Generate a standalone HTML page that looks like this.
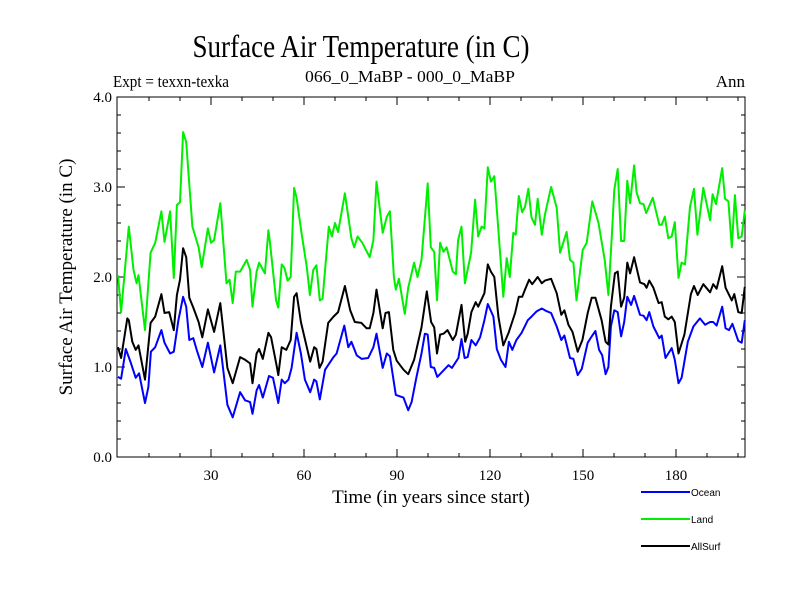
<!DOCTYPE html>
<html><head><meta charset="utf-8"><style>
html,body{margin:0;padding:0;background:#fff;}
svg{display:block;font-family:"Liberation Serif",serif;}
</style></head><body>
<svg id="chart" width="800" height="600" viewBox="0 0 800 600">
<text x="361" y="57" font-size="32" text-anchor="middle" textLength="337" lengthAdjust="spacingAndGlyphs">Surface Air Temperature (in C)</text>
<text x="113" y="87" font-size="17" textLength="116" lengthAdjust="spacingAndGlyphs">Expt = texxn-texka</text>
<text x="410" y="82" font-size="17" text-anchor="middle" textLength="210" lengthAdjust="spacingAndGlyphs">066_0_MaBP - 000_0_MaBP</text>
<text x="745" y="87" font-size="17" text-anchor="end">Ann</text>
<text transform="translate(72,277) rotate(-90)" font-size="19" text-anchor="middle">Surface Air Temperature (in C)</text>
<text x="431" y="503" font-size="19" text-anchor="middle">Time (in years since start)</text>
<g id="axes"></g>
<g id="series"></g>
<g id="legend" font-family="Liberation Sans, sans-serif" font-size="10">
<line x1="641" y1="492" x2="690" y2="492" stroke="#0000ff" stroke-width="2"/>
<text x="691" y="496">Ocean</text>
<line x1="641" y1="519" x2="690" y2="519" stroke="#00ee00" stroke-width="2"/>
<text x="691" y="523">Land</text>
<line x1="641" y1="546" x2="690" y2="546" stroke="#000" stroke-width="2"/>
<text x="691" y="550">AllSurf</text>
</g>
</svg>
<script>
const landYears=[0,1,3.5,5,6,6.6,8.7,10.5,12,14,15,16.8,18,19,20,21,22,24,26,27,29,30,31,33,35,36,37,38,39.4,41.5,42.6,43.4,44.7,45.5,47.4,48.5,49,51,51.7,52.8,53.7,54.7,55.7,56.8,57.6,59.2,60.9,61.9,63,64,65.1,66,68,69,70,71,73.2,75.3,76.2,77.3,78.8,81.2,82.4,83.4,85.4,86.7,87.7,89,89.6,90.6,92.5,93.6,95.5,96.6,97.9,99.9,100.9,102,102.9,103.9,105,106,108,109,109.7,110.8,111.9,113.9,115.2,116.2,117.3,118.2,119.3,120.3,121.4,122.7,124.3,125.4,126.4,127.5,128.3,129.3,130.4,131.3,132.4,133.4,134.5,135.4,136.7,137.7,139.7,141.5,142.6,143.7,144.7,145.8,146.9,147.9,149.9,151.2,153,155,157,158.2,159.3,160.1,161.2,162.3,163.3,164.3,165.2,166.5,167.3,168.4,169.5,170.4,172.5,174.6,175.4,176.4,177.5,178.6,179.6,180.8,181.8,182.9,184.5,185.8,186.9,188.8,191,191.8,192.9,194.9,195.8,196.9,198,199,200.1,201.2,202.2];
const landValues=[2.02,1.61,2.56,2.08,1.93,2.02,1.41,2.27,2.38,2.73,2.39,2.73,1.99,2.8,2.83,3.61,3.5,2.56,2.33,2.11,2.54,2.38,2.41,2.82,1.93,1.97,1.71,2.06,2.06,2.19,2.08,1.67,2.06,2.16,2.04,2.52,2.39,1.74,1.66,2.14,2.1,1.96,2.0,2.99,2.88,2.49,2.11,1.8,2.08,2.13,1.74,1.76,2.56,2.45,2.6,2.5,2.93,2.43,2.33,2.45,2.38,2.22,2.41,3.06,2.49,2.67,2.73,2.0,1.86,1.98,1.59,1.88,2.16,2.0,2.19,3.04,2.33,2.28,1.74,2.38,2.28,2.33,2.06,2.03,2.41,2.56,1.93,2.27,2.86,2.45,2.56,2.54,3.22,3.06,3.12,2.52,1.78,2.21,2.0,2.49,2.47,2.9,2.72,2.78,2.98,2.66,2.58,2.87,2.47,2.69,3.0,2.77,2.27,2.39,2.5,2.19,2.16,1.74,2.3,2.38,2.84,2.6,2.19,1.8,2.45,2.97,3.2,2.4,2.4,3.07,2.82,3.24,2.94,2.82,2.81,2.71,2.88,2.58,2.58,2.67,2.43,2.45,2.61,1.99,2.16,2.14,2.78,2.98,2.47,2.99,2.63,2.92,2.81,3.21,2.87,2.84,2.33,2.91,2.43,2.45,2.74];
const allYears=[0,1,3,3.5,4.6,5.7,6.6,8.7,10.5,12,14,15,16.5,18,19,20,21,22,23,24.3,26,27.2,29,31,33,35.3,37,39.4,41,42.6,43.4,44.7,45.5,46.7,48.5,49.4,51.2,51.7,52.8,54.3,55.7,56.8,57.6,59,60.9,62,63.3,64,65,66,67.8,69.5,71,73.2,74.9,76.4,78.5,80.2,81.2,82.4,83.4,85.4,86.3,87.4,88.8,89.9,92.1,93.6,95.5,97.9,99.6,101,102,102.9,103.9,105,106.3,108,109,110.8,112,112.8,114,115.4,116.2,118.2,119.3,120.3,121.4,122.7,124.3,126,128.1,129.3,130.4,131.3,132.6,133.6,135.4,136.7,137.7,139.7,141.5,143,144,145.3,146.6,148.3,149.8,151.5,152.8,154,156,157.3,158.2,159,160.3,161.2,162.3,163.3,164.3,165.2,166.5,168.4,169.8,170.5,171.4,172.7,174.4,175.4,176.4,177.5,178.6,179.6,180.8,182.7,184.8,185.8,187,188.8,191,192,193.1,194.9,196,198,198.8,200.1,201.2,202.2];
const allValues=[1.22,1.1,1.54,1.52,1.28,1.19,1.24,0.86,1.49,1.56,1.81,1.6,1.61,1.41,1.8,1.97,2.32,2.22,1.77,1.66,1.5,1.33,1.64,1.39,1.71,0.99,0.82,1.11,1.08,1.04,0.82,1.15,1.2,1.09,1.38,1.33,1.01,0.91,1.22,1.19,1.3,1.78,1.82,1.5,1.22,1.06,1.22,1.2,0.99,1.06,1.49,1.56,1.61,1.9,1.63,1.5,1.49,1.43,1.43,1.6,1.86,1.43,1.6,1.61,1.19,1.07,0.97,0.92,1.08,1.44,1.84,1.5,1.44,1.15,1.36,1.37,1.41,1.3,1.36,1.69,1.28,1.37,1.61,1.72,1.67,1.82,2.14,2.06,2.0,1.56,1.24,1.38,1.6,1.78,1.78,1.86,1.97,1.92,2.0,1.93,1.96,1.98,1.82,1.58,1.63,1.47,1.39,1.17,1.3,1.6,1.77,1.77,1.52,1.28,1.25,1.67,2.04,2.06,1.67,1.77,2.16,2.04,2.22,1.94,1.92,1.88,1.96,1.88,1.71,1.72,1.56,1.53,1.56,1.5,1.15,1.36,1.81,1.9,1.8,1.92,1.83,1.92,1.87,2.12,1.88,1.74,1.81,1.61,1.6,1.89];
const oceanYears=[0,1,2.5,4,5.7,6.8,8.7,9.8,10.6,12,14,15,16.8,18,19.5,21,22,23,24.3,25.4,27.2,29,31,33,35.3,37,39.4,41,42.6,43.4,44.7,45.5,46.7,48.7,50,51.7,52.8,53.8,55,56,57.6,59,60.3,62,63.3,64,65.1,66.8,69.5,70.5,73,74.3,75.3,77,78.6,80.7,82.4,83.4,85.4,86.7,87.7,89.6,92.1,93.6,94.7,96.3,97.9,99,99.9,100.9,102,103,104.4,106.6,107.7,109.8,110.8,111.8,112.8,114,115.4,116.8,118.2,119.3,121.1,122.2,123.5,125,126.1,127.2,128.5,130.2,132.2,133.4,135.1,136.7,138.3,139.7,141.5,143,144,145.8,146.9,148.3,149.6,151.5,152.8,154,155.2,156.2,157.3,158.2,159,160.1,161.2,162.3,163.3,164.3,165.5,166.5,168.4,169.5,170.5,171.4,172.7,174.6,175.4,176.6,178.6,179.6,180.8,181.8,183.8,185.6,187.7,189.4,191,192,193.1,194.9,196,197.1,198.2,200.1,201.2,202.2];
const oceanValues=[0.89,0.87,1.2,1.06,0.88,0.93,0.6,0.78,1.17,1.22,1.41,1.27,1.15,1.17,1.52,1.78,1.67,1.3,1.32,1.19,1.0,1.27,0.94,1.24,0.58,0.44,0.72,0.63,0.61,0.48,0.74,0.8,0.66,0.9,0.88,0.6,0.86,0.82,0.86,0.99,1.38,1.15,0.86,0.72,0.86,0.84,0.64,0.97,1.11,1.15,1.46,1.22,1.28,1.13,1.09,1.1,1.22,1.37,0.99,1.15,1.12,0.69,0.66,0.52,0.61,0.89,1.15,1.37,1.36,1.0,0.99,0.89,0.94,1.02,0.99,1.1,1.31,1.1,1.11,1.3,1.24,1.33,1.52,1.7,1.56,1.2,1.08,1.0,1.28,1.19,1.3,1.38,1.52,1.56,1.62,1.65,1.62,1.6,1.45,1.3,1.35,1.1,1.09,0.91,0.98,1.27,1.34,1.4,1.19,1.13,0.92,1.0,1.45,1.63,1.61,1.34,1.5,1.78,1.69,1.79,1.58,1.57,1.52,1.61,1.45,1.32,1.35,1.1,1.21,1.08,0.82,0.88,1.28,1.45,1.54,1.47,1.5,1.5,1.46,1.67,1.43,1.41,1.48,1.29,1.27,1.52];
const yTicks=[0,1,2,3,4];
const yTickLabels=["0.0","1.0","2.0","3.0","4.0"];
const xTicks=[30,60,90,120,150,180];

const NS="http://www.w3.org/2000/svg";
const L=117,R=745,T=97,B=457;
function xs(t){return 118+3.1*t;}
function ys(v){return B-(v/4)*(B-T);}
function mk(tag,attrs,parent){const e=document.createElementNS(NS,tag);for(const k in attrs)e.setAttribute(k,attrs[k]);parent.appendChild(e);return e;}
const axes=document.getElementById('axes');
const frame=mk('rect',{x:L,y:T,width:R-L,height:B-T,fill:'none',stroke:'#000','stroke-width':1},axes);


for(let v=0;v<=4.001;v+=0.2){
  const major=Math.abs(v-Math.round(v))<1e-6;const len=major?8:4;const y=ys(v);
  const t1=mk('line',{x1:L,y1:y,x2:L+len,y2:y,stroke:'#000'},axes);
  
  
  const t2=mk('line',{x1:R-len,y1:y,x2:R,y2:y,stroke:'#000'},axes);
  
  
}
yTicks.forEach((v,i)=>{
  const tx=mk('text',{x:L-5,y:ys(v)+5,'font-size':15,'text-anchor':'end'},axes);
  tx.textContent=yTickLabels[i];
  
  
});
for(let t=10;t<=200;t+=10){
  const major=t%30===0;const len=major?8:4;const x=xs(t);
  const a=mk('line',{x1:x,y1:B,x2:x,y2:B-len,stroke:'#000'},axes);
  
  
  const b=mk('line',{x1:x,y1:T,x2:x,y2:T+len,stroke:'#000'},axes);
  
  
}
xTicks.forEach(t=>{
  const tx=mk('text',{x:xs(t),y:B+23,'font-size':15,'text-anchor':'middle'},axes);
  tx.textContent=String(t);
  
  
});
const series=document.getElementById('series');
function draw(years,vals,color,name){
  const d=years.map((t,i)=>(i?'L':'M')+xs(t).toFixed(1)+' '+ys(vals[i]).toFixed(1)).join(' ');
  const p=mk('path',{d:d,fill:'none',stroke:color,'stroke-width':2,'stroke-linejoin':'round'},series);
  
  
}
draw(landYears,landValues,'#00ee00','land-line');
draw(oceanYears,oceanValues,'#0000ff','ocean-line');
draw(allYears,allValues,'#000000','allsurf-line');
</script>
</body></html>
